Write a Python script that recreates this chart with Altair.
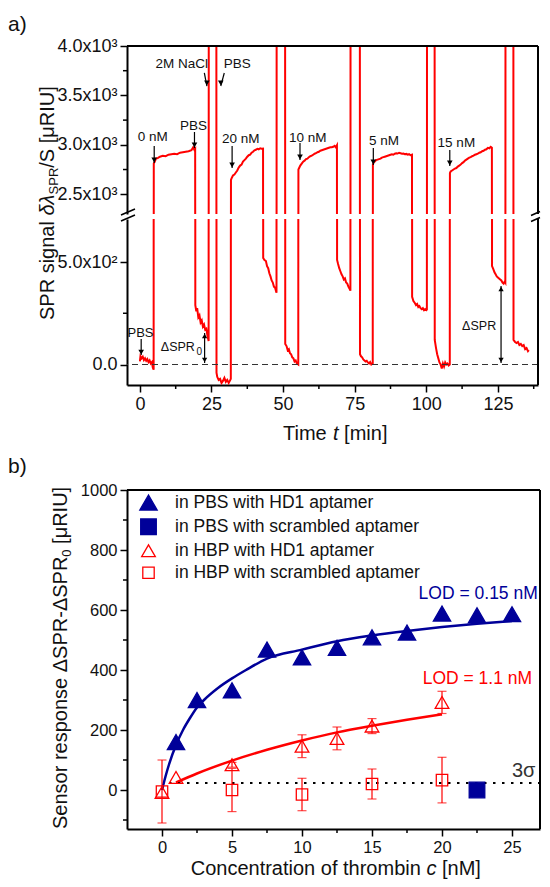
import altair as alt
import pandas as pd

FONT = "Liberation Sans"
RED = "#ff0000"
BLUE = "#000099"
INK = "#111111"

# ---------------- panel a : SPR sensorgram (time [min], signal [uRIU]) ----------------
time_min = [
    0.0, 0.2, 0.6, 1.0, 1.4, 1.8, 2.2, 2.6, 3.0, 3.4, 3.8, 4.2, 4.5, 4.8,
    4.85, 5.2, 5.6, 6.2, 7.0, 8.0, 9.0, 10.0, 11.0, 12.0, 13.0, 14.0, 15.0, 16.0, 17.0, 18.0, 18.6, 19.0, 19.3,
    19.35, 19.7, 20.0, 20.4, 20.8, 21.2, 21.6, 22.0, 22.4, 22.8, 23.2, 23.6, 24.0,
    24.05, 26.7,
    26.75, 27.0, 27.5, 28.0, 28.5, 29.0, 29.5, 30.0, 30.5, 31.0, 31.4, 31.75,
    31.8, 32.0, 32.5, 33.0, 33.5, 34.0, 34.5, 35.0, 35.5, 36.0, 36.5, 37.0, 37.5, 38.0, 38.5, 39.0, 39.5, 40.0, 40.5, 41.0, 41.5, 42.0, 42.5, 43.0,
    43.05, 43.5, 44.0, 44.4, 44.8, 45.2, 45.6, 46.0, 46.4, 46.8, 47.2, 47.7,
    47.75, 50.7,
    50.75, 51.2, 51.6, 52.0, 52.4, 52.8, 53.2, 53.6, 54.0, 54.4, 54.8, 55.3,
    55.35, 55.6, 56.0, 56.5, 57.0, 57.5, 58.0, 58.5, 59.0, 59.5, 60.0, 60.5, 61.0, 61.5, 62.0, 62.5, 63.0, 63.5, 64.0, 64.5, 65.0, 65.5, 66.0, 66.5, 67.0, 67.5, 68.0, 68.4, 68.8,
    68.85, 69.2, 69.6, 70.0, 70.4, 70.8, 71.2, 71.6, 72.0, 72.4, 72.8, 73.2, 73.5,
    73.55, 76.8,
    76.85, 77.2, 77.6, 78.0, 78.4, 78.8, 79.2, 79.6, 80.0, 80.4, 80.8, 81.3,
    81.35, 81.6, 82.0, 82.5, 83.0, 83.5, 84.0, 84.5, 85.0, 85.5, 86.0, 86.5, 87.0, 87.5, 88.0, 88.5, 89.0, 89.5, 90.0, 90.5, 91.0, 91.5, 92.0, 92.5, 93.0, 93.5, 94.0, 94.5, 95.0,
    95.05, 95.5, 96.0, 96.4, 96.8, 97.2, 97.6, 98.0, 98.4, 98.8, 99.2, 99.6, 100.0, 100.2,
    100.25, 102.9,
    102.95, 103.4, 103.8, 104.2, 104.6, 105.0, 105.4, 105.8, 106.2, 106.6, 107.0, 107.4, 107.8, 108.2,
    108.25, 108.5, 109.0, 109.5, 110.0, 110.5, 111.0, 111.5, 112.0, 112.5, 113.0, 113.5, 114.0, 114.5, 115.0, 115.5, 116.0, 116.5, 117.0, 117.5, 118.0, 118.5, 119.0, 119.5, 120.0, 120.5, 121.0, 121.5, 122.0, 122.5, 122.9,
    122.95, 123.4, 123.8, 124.2, 124.6, 125.0, 125.4, 125.8, 126.2, 126.6, 127.0, 127.4, 127.6,
    127.65, 130.4,
    130.45, 131.0, 131.5, 132.0, 132.5, 133.0, 133.5, 134.0, 134.5, 135.0, 135.5, 135.8,
]
spr_signal = [
    15, 40, 30, 38, 22, 30, 18, 26, 12, 20, 5, 12, -15, -25,
    2810, 2830, 2860, 2865, 2880, 2890, 2885, 2900, 2905, 2910, 2905, 2920, 2925, 2930, 2935, 2945, 2975, 2950, 2960,
    290, 260, 275, 230, 240, 205, 215, 185, 195, 170, 175, 140, 115,
    4600, 4600,
    -40, -60, -75, -70, -90, -80, -65, -85, -75, -90, -80, -70,
    2645, 2660, 2690, 2700, 2720, 2740, 2770, 2790, 2800, 2830, 2845, 2860, 2880, 2895, 2900, 2920, 2930, 2945, 2950, 2960, 2955, 2965, 2960, 2962,
    520, 510, 505, 480, 470, 445, 430, 410, 400, 380, 375, 350,
    4600, 4600,
    100, 90, 70, 75, 55, 50, 35, 30, 15, 20, 5, 0,
    2750, 2765, 2790, 2810, 2830, 2840, 2855, 2860, 2875, 2885, 2890, 2900, 2910, 2915, 2925, 2930, 2940, 2945, 2950, 2955, 2960, 2965, 2970, 2975, 2975, 2980, 2990, 2975, 2995,
    510, 490, 470, 455, 440, 430, 415, 420, 400, 395, 380, 370, 360,
    4600, 4600,
    50, 40, 35, 25, 20, 15, 18, 10, 5, 12, 0, 5,
    2800, 2820, 2830, 2845, 2850, 2855, 2860, 2870, 2875, 2880, 2885, 2890, 2895, 2900, 2905, 2900, 2910, 2915, 2912, 2920, 2915, 2910, 2912, 2905, 2908, 2900, 2905, 2895, 2900,
    330, 310, 300, 290, 295, 280, 285, 275, 270, 275, 265, 270, 265, 268,
    4600, 4600,
    120, 80, 50, 30, 10, 0, -20, 5, -10, 10, 0, 5, -5, 0,
    2715, 2730, 2740, 2750, 2760, 2765, 2780, 2790, 2800, 2815, 2825, 2840, 2850, 2860, 2870, 2875, 2885, 2890, 2900, 2905, 2910, 2920, 2925, 2935, 2940, 2950, 2955, 2970, 2965, 2980, 2970,
    480, 465, 450, 440, 430, 425, 420, 415, 410, 400, 395, 405, 400,
    4600, 4600,
    120, 110, 105, 110, 95, 100, 90, 95, 75, 80, 65, 70,
]
assert len(time_min) == len(spr_signal)

a_x_ticks = [0, 25, 50, 75, 100, 125]
a_x_minor = [12.5, 37.5, 62.5, 87.5, 112.5, 137.5]
a_top_ticks = [2500, 3000, 3500, 4000]
a_top_minor = [2750, 3250, 3750]
a_bot_ticks = [0, 500]
a_bot_minor = [250]

# annotations of the upper part (label position and arrow start/end)
top_labels = ["0 nM", "PBS", "2M NaCl", "PBS", "20 nM", "10 nM", "5 nM", "15 nM"]
top_label_t = [4.5, 18.7, 14.6, 34.0, 35.2, 58.6, 85.2, 110.5]
top_label_v = [3034, 3150, 3777, 3777, 3018, 3029, 2998, 2978]
top_arrow_t = [5.0, 19.06, 22.5, 29.46, 32.2, 55.9, 81.5, 108.2]
top_arrow_t2 = [5.0, 19.06, 23.4, 28.25, 32.2, 55.9, 81.5, 108.2]
top_arrow_v = [2988, 3130, 3727, 3727, 2988, 3018, 2968, 2948]
top_arrow_v2 = [2816, 2968, 3595, 3595, 2765, 2846, 2796, 2786]

# annotations of the lower part
bot_labels = ["PBS", "ΔSPR", "ΔSPR"]
bot_label_t = [0.2, 7.3, 112.5]
bot_label_v = [132, 64, 168]
bot_label_align = ["center", "left", "left"]
pbs_arrow_t = [0.45]
pbs_arrow_v = [124]
pbs_arrow_v2 = [46]
dbl_arrow_t = [22.6, 126.1]
dbl_arrow_top = [154, 383]
dbl_arrow_bot = [7, 7]

# ---------------- panel b : sensor response vs thrombin concentration ----------------
series_names = [
    "in PBS with HD1 aptamer",
    "in PBS with scrambled aptamer",
    "in HBP with HD1 aptamer",
    "in HBP with scrambled aptamer",
]
pbs_hd1_c = [1, 2.5, 5, 7.5, 10, 12.5, 15, 17.5, 20, 22.5, 25]
pbs_hd1_v = [160, 300, 332, 468, 442, 474, 509, 525, 588, 582, 586]
pbs_scr_c = [22.5]
pbs_scr_v = [0]
hbp_hd1_c = [0, 1, 5, 10, 12.5, 15, 20]
hbp_hd1_v = [-8, 42, 84, 146, 172, 213, 292]
hbp_hd1_err = [0, 0, 8, 38, 38, 25, 37]
hbp_scr_c = [0, 5, 10, 15, 20]
hbp_scr_v = [-5, 0, -15, 20, 33]
hbp_scr_err = [105, 72, 54, 50, 76]

blue_fit_c = [0, 0.25, 0.5, 1, 1.5, 2, 2.5, 3, 4, 5, 6, 7.5, 10, 12.5, 15, 17.5, 20, 22.5, 25]
blue_fit_v = [0, 45, 85, 150, 200, 240, 275, 300, 340, 372, 400, 438, 468, 496, 515, 530, 543, 554, 563]
red_fit_c = [1, 2.5, 5, 7.5, 10, 12.5, 15, 17.5, 20]
red_fit_v = [25, 55, 98, 134, 165, 192, 214, 234, 252]

three_sigma = 23
b_x_ticks = [0, 5, 10, 15, 20, 25]
b_x_minor = [2.5, 7.5, 12.5, 17.5, 22.5]
b_y_ticks = [0, 200, 400, 600, 800, 1000]
b_y_minor = [-100, 100, 300, 500, 700, 900]

lod_text = ["LOD = 0.15 nM", "LOD = 1.1 nM"]
lod_c = [18.33, 18.62]
lod_v = [637, 353]
lod_color = [BLUE, RED]

# ---------------- geometry ----------------
W_A, H_AT, H_AB = 411, 168, 166
W_B, H_B = 413, 339
GAP_AB = 95  # blank band between the two panels (plus two 5 px spacings)

one = pd.DataFrame({"k": [0]})


def axis(values, size, expr=None, fmt=None):
    kw = dict(values=values, title=None, grid=False, domainColor="black", domainWidth=2,
              tickColor="black", tickWidth=1.5, tickSize=7, labelFont=FONT,
              labelFontSize=size, labelColor=INK, labelPadding=3, labelOverlap=False)
    if expr:
        kw["labelExpr"] = expr
    if fmt:
        kw["format"] = fmt
    return alt.Axis(**kw)


def txt(s, x, y, size, angle=0, italic=False, align="left", color=INK):
    kw = dict(text=s, fontSize=size, font=FONT, align=align, baseline="alphabetic",
              color=color, angle=angle)
    if italic:
        kw["fontStyle"] = "italic"
    return alt.Chart(one).mark_text(**kw).encode(x=alt.value(x), y=alt.value(y))


def seg(x1, y1, x2, y2, w=1.5):
    return alt.Chart(one).mark_rule(color="black", strokeWidth=w).encode(
        x=alt.value(x1), y=alt.value(y1), x2=alt.value(x2), y2=alt.value(y2))


xa_scale = alt.Scale(domain=[-4.5, 139], nice=False, zero=False)
yt_scale = alt.Scale(domain=[2300, 4000], nice=False, zero=False)
yb_scale = alt.Scale(domain=[-100, 710], nice=False, zero=False)

trace = pd.DataFrame({"t": time_min, "v": spr_signal, "i": list(range(len(time_min)))})

# ---- upper part of panel a
top_line = alt.Chart(trace).mark_line(color=RED, strokeWidth=2, clip=True).encode(
    x=alt.X("t:Q", scale=xa_scale, axis=None),
    y=alt.Y("v:Q", scale=yt_scale,
            axis=axis(a_top_ticks, 18, "format(datum.value/1000,'.1f')+'x10³'")),
    order="i:Q")
top_minor = alt.Chart(pd.DataFrame({"v": a_top_minor})).mark_rule(
    color="black", strokeWidth=1.5).encode(y="v:Q", x=alt.value(-4), x2=alt.value(0))
top_lab = alt.Chart(pd.DataFrame({"label": top_labels, "t": top_label_t, "v": top_label_v})).mark_text(
    font=FONT, fontSize=13.5, color=INK, align="center", baseline="alphabetic").encode(
    x="t:Q", y="v:Q", text="label:N")
top_arr_df = pd.DataFrame({"t": top_arrow_t, "t2": top_arrow_t2, "v": top_arrow_v, "v2": top_arrow_v2})
top_arr = alt.Chart(top_arr_df).mark_rule(color="black", strokeWidth=1.2).encode(
    x="t:Q", y="v:Q", x2="t2:Q", y2="v2:Q")
top_head = alt.Chart(top_arr_df).mark_point(
    shape="triangle-down", filled=True, color="black", size=32, opacity=1, yOffset=-3).encode(
    x="t2:Q", y="v2:Q")

top_panel = alt.layer(
    top_line, top_minor, top_lab, top_arr, top_head,
    seg(0, 0, W_A, 0, 2), seg(W_A, 0, W_A, H_AT, 2),
    txt("a)", -119, -15, 21),
).properties(width=W_A, height=H_AT)

# ---- lower part of panel a
bot_line = alt.Chart(trace).mark_line(color=RED, strokeWidth=2, clip=True).encode(
    x=alt.X("t:Q", scale=xa_scale, axis=axis(a_x_ticks, 18)),
    y=alt.Y("v:Q", scale=yb_scale,
            axis=axis(a_bot_ticks, 18,
                      "datum.value == 0 ? '0.0' : format(datum.value/100,'.1f')+'x10²'")),
    order="i:Q")
zero_line = alt.Chart(one).mark_rule(color="#333333", strokeWidth=1, strokeDash=[6, 4]).encode(
    y=alt.datum(0))
bot_minor_y = alt.Chart(pd.DataFrame({"v": a_bot_minor})).mark_rule(
    color="black", strokeWidth=1.5).encode(y="v:Q", x=alt.value(-4), x2=alt.value(0))
bot_minor_x = alt.Chart(pd.DataFrame({"t": a_x_minor})).mark_rule(
    color="black", strokeWidth=1.5).encode(x="t:Q", y=alt.value(H_AB), y2=alt.value(H_AB + 4))
bot_lab = alt.Chart(pd.DataFrame({"label": bot_labels, "t": bot_label_t, "v": bot_label_v,
                                  "al": bot_label_align})).mark_text(
    font=FONT, fontSize=13, color=INK, baseline="alphabetic").encode(
    x="t:Q", y="v:Q", text="label:N")
bot_lab_pbs = bot_lab.transform_filter("datum.al == 'center'").mark_text(
    font=FONT, fontSize=13, color=INK, baseline="alphabetic", align="center")
bot_lab_left = bot_lab.transform_filter("datum.al == 'left'").mark_text(
    font=FONT, fontSize=12.5, color=INK, baseline="alphabetic", align="left")
sub0 = alt.Chart(pd.DataFrame({"t": [19.8], "v": [46]})).mark_text(
    font=FONT, fontSize=10, color=INK, align="left", baseline="alphabetic", text="0").encode(
    x="t:Q", y="v:Q")
pbs_df = pd.DataFrame({"t": pbs_arrow_t, "v": pbs_arrow_v, "v2": pbs_arrow_v2})
pbs_arr = alt.Chart(pbs_df).mark_rule(color="black", strokeWidth=1.2).encode(
    x="t:Q", y="v:Q", y2="v2:Q")
pbs_head = alt.Chart(pbs_df).mark_point(
    shape="triangle-down", filled=True, color="black", size=32, opacity=1, yOffset=-3).encode(
    x="t:Q", y="v2:Q")
dbl_df = pd.DataFrame({"t": dbl_arrow_t, "top": dbl_arrow_top, "bot": dbl_arrow_bot})
dbl_arr = alt.Chart(dbl_df).mark_rule(color="black", strokeWidth=1.2).encode(
    x="t:Q", y="top:Q", y2="bot:Q")
dbl_up = alt.Chart(dbl_df).mark_point(
    shape="triangle-up", filled=True, color="black", size=28, opacity=1, yOffset=3).encode(
    x="t:Q", y="top:Q")
dbl_down = alt.Chart(dbl_df).mark_point(
    shape="triangle-down", filled=True, color="black", size=28, opacity=1, yOffset=-3).encode(
    x="t:Q", y="bot:Q")

bot_panel = alt.layer(
    bot_line, zero_line, bot_minor_y, bot_minor_x, bot_lab_pbs, bot_lab_left, sub0,
    pbs_arr, pbs_head, dbl_arr, dbl_up, dbl_down,
    seg(W_A, 0, W_A, H_AB, 2),
    # axis-break marks
    seg(-6, -4, 8, -10), seg(-6, 2, 8, -4),
    seg(W_A - 7, -3.5, W_A + 2, -7.5), seg(W_A - 7, 2.5, W_A + 2, -1.5),
    # y title (rotated, with subscript)
    txt("SPR signal", -73, 101, 20, angle=270),
    txt("δλ", -73, -3.5, 20, angle=270, italic=True),
    txt("SPR", -69, -24.6, 13, angle=270),
    txt("/S [μRIU]", -73, -51.3, 20, angle=270),
    # x title
    txt("Time", 156, 221, 20),
    txt("t", 206, 221, 20, italic=True),
    txt("[min]", 217.1, 221, 20),
).properties(width=W_A, height=H_AB)

# blank band between panel a and panel b
spacer = alt.Chart(one).mark_point(opacity=0).encode(
    x=alt.value(0), y=alt.value(0)).properties(width=W_A, height=GAP_AB)

# ---- panel b
rows = []
for name, cs, vs in [(series_names[0], pbs_hd1_c, pbs_hd1_v),
                     (series_names[1], pbs_scr_c, pbs_scr_v),
                     (series_names[2], hbp_hd1_c, hbp_hd1_v),
                     (series_names[3], hbp_scr_c, hbp_scr_v)]:
    for c, v in zip(cs, vs):
        rows.append({"series": name, "c": c, "v": v})
pts = pd.DataFrame(rows)

err_rows = []
for cs, vs, es in [(hbp_hd1_c, hbp_hd1_v, hbp_hd1_err), (hbp_scr_c, hbp_scr_v, hbp_scr_err)]:
    for c, v, e in zip(cs, vs, es):
        if e > 0:
            err_rows.append({"c": c, "lo": v - e, "hi": v + e})
errs = pd.DataFrame(err_rows)

xb_scale = alt.Scale(domain=[-2.5, 27.0], nice=False, zero=False)
yb2_scale = alt.Scale(domain=[-130, 1000], nice=False, zero=False)

blue_fit = alt.Chart(pd.DataFrame({"c": blue_fit_c, "v": blue_fit_v})).mark_line(
    color=BLUE, strokeWidth=2.5, interpolate="monotone").encode(
    x=alt.X("c:Q", scale=xb_scale, axis=axis(b_x_ticks, 16.5)),
    y=alt.Y("v:Q", scale=yb2_scale, axis=axis(b_y_ticks, 16.5, fmt="d")))
red_fit = alt.Chart(pd.DataFrame({"c": red_fit_c, "v": red_fit_v})).mark_line(
    color=RED, strokeWidth=2.5, interpolate="monotone").encode(x="c:Q", y="v:Q")
sigma_line = alt.Chart(pd.DataFrame({"c": [0.5], "c2": [27.0], "v": [three_sigma]})).mark_rule(
    color="black", strokeWidth=2, strokeDash=[2.5, 6.5]).encode(x="c:Q", x2="c2:Q", y="v:Q")
err_rule = alt.Chart(errs).mark_rule(color=RED, strokeWidth=1.2).encode(
    x="c:Q", y="lo:Q", y2="hi:Q")
err_lo = alt.Chart(errs).mark_tick(color=RED, thickness=1.2, size=9, orient="horizontal").encode(
    x="c:Q", y="lo:Q")
err_hi = alt.Chart(errs).mark_tick(color=RED, thickness=1.2, size=9, orient="horizontal").encode(
    x="c:Q", y="hi:Q")

leg = alt.Legend(orient="none", legendX=12, legendY=3, title=None, labelFont=FONT,
                 labelFontSize=17.5, labelColor=INK, labelOffset=17, rowPadding=3,
                 padding=0, labelLimit=0, symbolStrokeWidth=1.3)
points = alt.Chart(pts).mark_point(strokeWidth=1.3, opacity=1).encode(
    x="c:Q", y="v:Q",
    shape=alt.Shape("series:N", scale=alt.Scale(
        domain=series_names, range=["triangle-up", "square", "triangle-up", "square"]), legend=leg),
    fill=alt.Fill("series:N", scale=alt.Scale(
        domain=series_names, range=[BLUE, BLUE, "transparent", "transparent"]), legend=leg),
    stroke=alt.Stroke("series:N", scale=alt.Scale(
        domain=series_names, range=[BLUE, BLUE, RED, RED]), legend=leg),
    size=alt.Size("series:N", scale=alt.Scale(
        domain=series_names, range=[300, 130, 240, 150]), legend=leg),
)
lod = alt.Chart(pd.DataFrame({"t": lod_text, "c": lod_c, "v": lod_v, "col": lod_color})).mark_text(
    font=FONT, fontSize=17.5, align="left", baseline="alphabetic").encode(
    x="c:Q", y="v:Q", text="t:N", color=alt.Color("col:N", scale=None))
sigma_txt = alt.Chart(pd.DataFrame({"c": [25.0], "v": [43]})).mark_text(
    font=FONT, fontSize=20, align="left", baseline="alphabetic", color="#333333", text="3σ").encode(
    x="c:Q", y="v:Q")
b_minor_x = alt.Chart(pd.DataFrame({"c": b_x_minor})).mark_rule(
    color="black", strokeWidth=1.5).encode(x="c:Q", y=alt.value(H_B), y2=alt.value(H_B + 4))
b_minor_y = alt.Chart(pd.DataFrame({"v": b_y_minor})).mark_rule(
    color="black", strokeWidth=1.5).encode(y="v:Q", x=alt.value(-4), x2=alt.value(0))

panel_b = alt.layer(
    blue_fit, red_fit, sigma_line, err_rule, err_lo, err_hi, points, lod, sigma_txt,
    b_minor_x, b_minor_y,
    seg(0, 0, W_B, 0, 2), seg(W_B, 0, W_B, H_B, 2),
    txt("b)", -119, -17, 21),
    txt("Sensor response ΔSPR-ΔSPR", -60, 339, 20, angle=270),
    txt("0", -56, 66.7, 13, angle=270),
    txt("[μRIU]", -60, 53.9, 20, angle=270),
    txt("Concentration of thrombin", 63.7, H_B + 46, 20),
    txt("c", 299.4, H_B + 46, 20, italic=True),
    txt("[nM]", 315.0, H_B + 46, 20),
).properties(width=W_B, height=H_B)

chart = alt.vconcat(top_panel, bot_panel, spacer, panel_b, spacing=5, bounds="flush").resolve_scale(
    x="independent", y="independent", shape="independent", fill="independent",
    stroke="independent", size="independent"
).properties(
    padding={"left": 0, "top": 6, "right": 0, "bottom": 0}
).configure_view(stroke=None).configure_text(font=FONT)

chart.save("out.html", embed_options={"renderer": "svg", "actions": False})
